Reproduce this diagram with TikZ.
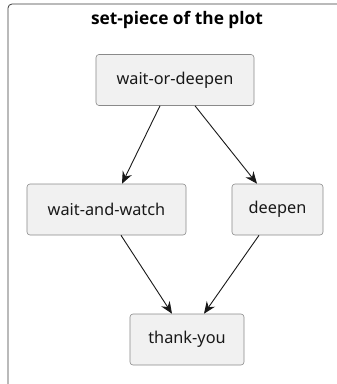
\documentclass[tikz,border=0pt]{standalone}
\usepackage{fontspec}
\setmainfont{Noto Sans}
\newfontfamily\titlefont{Open Sans}
\usetikzlibrary{arrows.meta,calc}
\definecolor{boxfill}{HTML}{F1F1F1}
\definecolor{boxline}{HTML}{8A8A8A}
\definecolor{ink}{HTML}{181818}
\tikzset{
  x=1bp, y=-1bp,
  act/.style={draw=boxline, fill=boxfill, rounded corners=3bp, line width=0.6bp,
    minimum height=51bp, inner sep=0pt, font=\fontsize{16.3bp}{19bp}\selectfont, text=ink},
  flow/.style={draw=ink, line width=0.9bp, -{Stealth[length=12bp,width=10bp,inset=4bp]}},
}
\begin{document}
\begin{tikzpicture}
\useasboundingbox (0,0) rectangle (337,384);
\clip (0,0) rectangle (337,384);
\draw[draw=ink!85, line width=0.8bp, rounded corners=4bp] (8,400) -- (8,4) -- (350,4);
\node[font=\titlefont\bfseries\fontsize{17.3bp}{20bp}\selectfont, text=black] (title) at (177,20) {set-piece of the plot};
\node[act, minimum width=158bp] (wod) at (175,80) {wait-or-deepen};
\node[act, minimum width=159bp] (waw) at (106.5,209.5) {wait-and-watch};
\node[act, minimum width=91bp] (dee) at (277.5,209.5) {deepen};
\node[act, minimum width=114bp] (ty) at (187,339.5) {thank-you};
\draw[flow] ($(wod.south)+(-15,0)$) -- ($(waw.north)+(15.5,0)$);
\draw[flow] ($(wod.south)+(20,0)$) -- ($(dee.north)+(-20.5,0)$);
\draw[flow] ($(waw.south)+(14.5,0)$) -- ($(ty.north)+(-15,0)$);
\draw[flow] ($(dee.south)+(-18.5,0)$) -- ($(ty.north)+(17,0)$);
\end{tikzpicture}
\end{document}
